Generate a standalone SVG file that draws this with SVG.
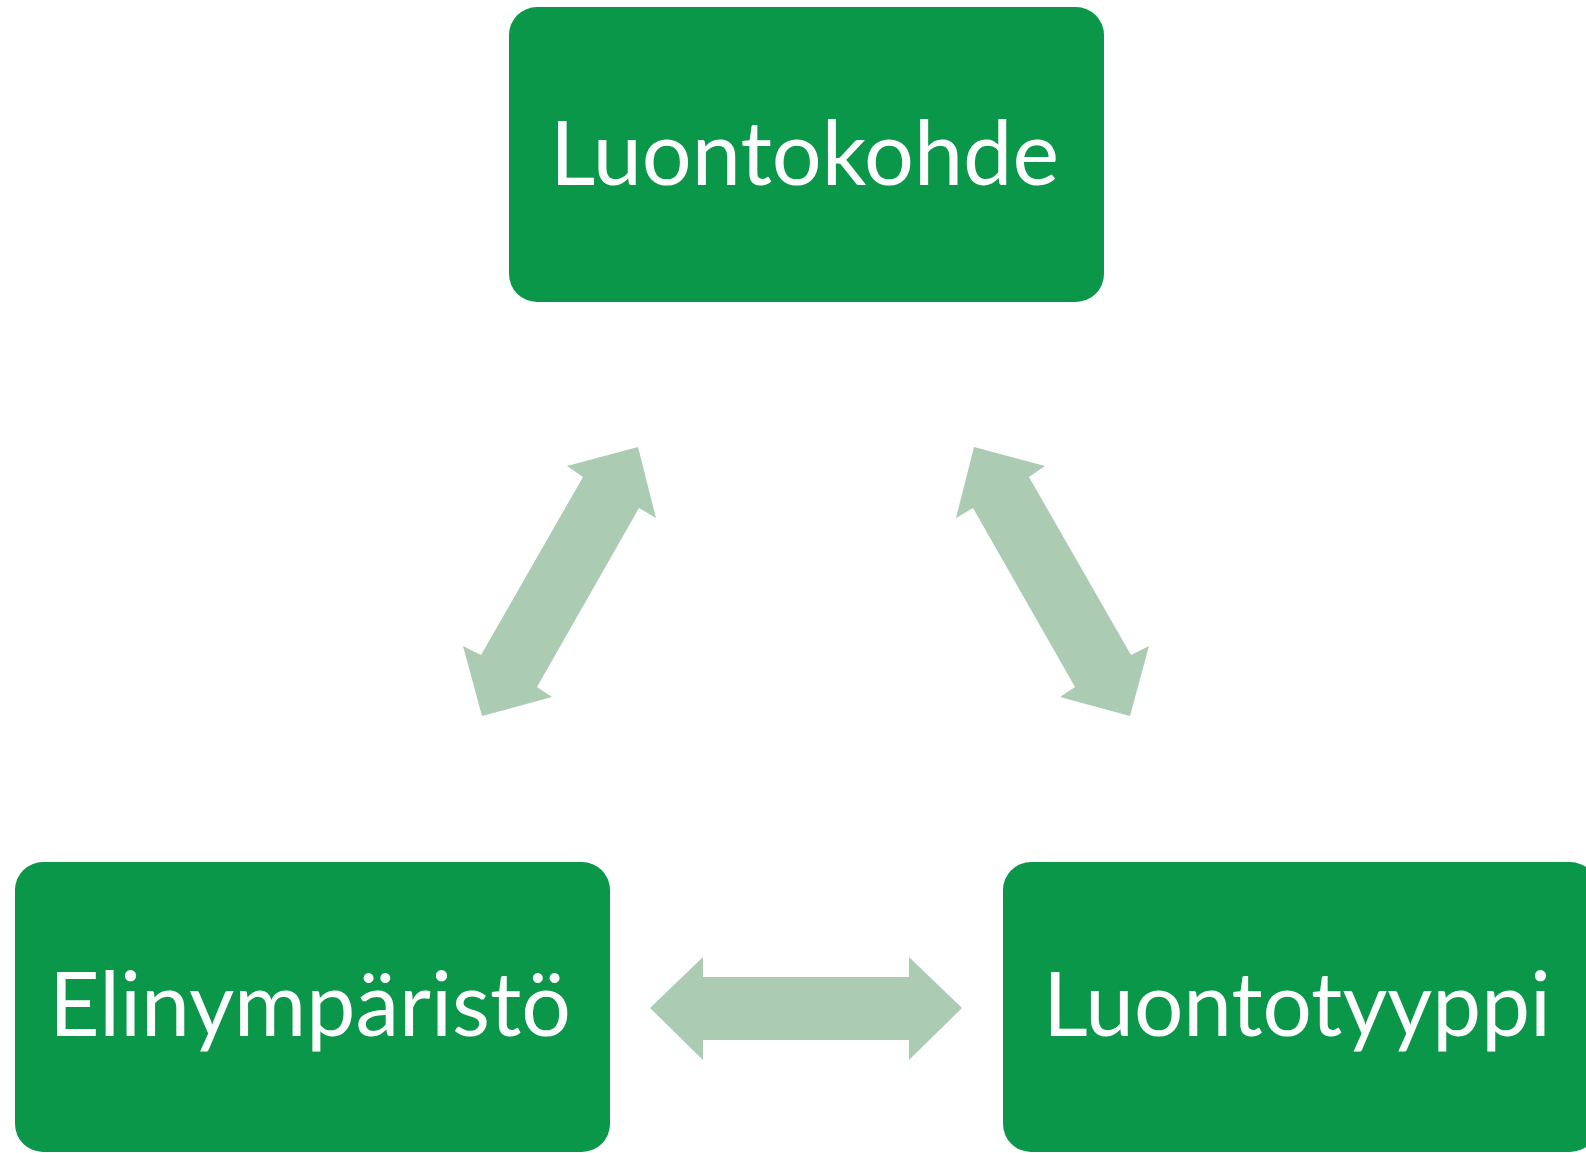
<svg xmlns="http://www.w3.org/2000/svg" width="1586" height="1153" viewBox="0 0 1586 1153">
<style>
.box{fill:#0b974a}
.lbl{fill:#ffffff;font-family:Lato,"Open Sans","Liberation Sans",sans-serif;font-size:90px}
.arr{fill:#abcbb3}
</style>
<rect width="1586" height="1153" fill="#ffffff"/>
<g id="connectors">
<polygon class="arr" points="638,447 656,518 639,508 537,687 552,697 482,716 463,646 481,655 583,477 567,466"/>
<polygon class="arr" points="974,447 956,518 973,508 1075,687 1060,697 1130,716 1149,646 1131,655 1029,477 1045,466"/>
<polygon class="arr" points="650,1008 703,957 703,977 909,977 909,957 962,1008 909,1060 909,1040 703,1040 703,1060"/>
</g>
<g id="luontokohde">
<rect class="box" x="509" y="7" width="595" height="295" rx="28"/>
<text class="lbl" x="550" y="185" textLength="509" lengthAdjust="spacingAndGlyphs">Luontokohde</text>
</g>
<g id="elinymparisto">
<rect class="box" x="15" y="862" width="595" height="290" rx="28"/>
<text class="lbl" x="49" y="1036" textLength="522" lengthAdjust="spacingAndGlyphs">Elinympäristö</text>
</g>
<g id="luontotyyppi">
<rect class="box" x="1003" y="862" width="595" height="290" rx="28"/>
<text class="lbl" x="1043" y="1036" textLength="508" lengthAdjust="spacingAndGlyphs">Luontotyyppi</text>
</g>
</svg>
